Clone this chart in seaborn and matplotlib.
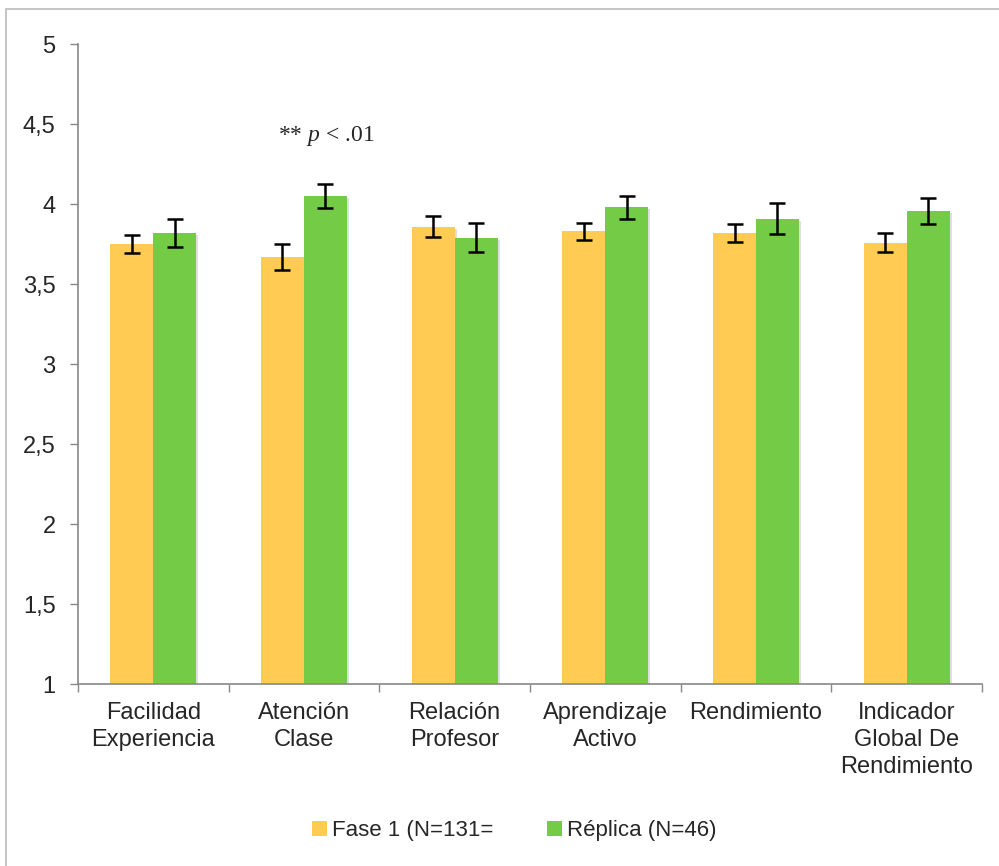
import numpy as np
import pandas as pd
import matplotlib
matplotlib.use("Agg")
import matplotlib.pyplot as plt
import matplotlib.patheffects as pe
from matplotlib.patches import Rectangle, Patch
import seaborn as sns

# Datos
categorias = ["Facilidad\nExperiencia", "Atención\nClase", "Relación\nProfesor",
              "Aprendizaje\nActivo", "Rendimiento", "Indicador\nGlobal De\nRendimiento"]
series = ["Fase 1 (N=131=", "Réplica (N=46)"]
fase1_media = [3.75, 3.67, 3.86, 3.83, 3.82, 3.76]
fase1_error = [0.058, 0.080, 0.067, 0.052, 0.056, 0.059]
replica_media = [3.82, 4.05, 3.79, 3.98, 3.91, 3.96]
replica_error = [0.086, 0.077, 0.090, 0.073, 0.099, 0.081]
yticks = [1, 1.5, 2, 2.5, 3, 3.5, 4, 4.5, 5]
ytick_labels = ["1", "1,5", "2", "2,5", "3", "3,5", "4", "4,5", "5"]
colores = ["#FFCB53", "#74CB46"]

df = pd.DataFrame({
    "categoria": categorias * 2,
    "grupo": [series[0]] * 6 + [series[1]] * 6,
    "media": fase1_media + replica_media,
    "error": fase1_error + replica_error,
})

sns.set_style("white")
plt.rcParams["font.family"] = ["Liberation Sans", "DejaVu Sans"]
plt.rcParams["mathtext.fontset"] = "custom"
plt.rcParams["mathtext.it"] = "Liberation Serif:italic"
plt.rcParams["mathtext.rm"] = "Liberation Serif"

fig = plt.figure(figsize=(9.99, 8.66), dpi=100)
ax = fig.add_axes([0.078, 0.21, 0.905, 0.739])

sns.barplot(data=df, x="categoria", y="media", hue="grupo", palette=colores,
            errorbar=None, width=0.57, saturation=1, ax=ax, legend=False,
            linewidth=0, zorder=2)

# sombra ligera de las barras y barras de error
for bar in ax.patches:
    bar.set_path_effects([pe.SimplePatchShadow(offset=(1.5, -1.5), alpha=0.25, shadow_rgbFace="gray"),
                          pe.Normal()])
for bar, (_, fila) in zip(ax.patches, df.iterrows()):
    xc = bar.get_x() + bar.get_width() / 2
    ax.errorbar(xc, fila["media"], yerr=fila["error"], fmt="none", ecolor="black",
                elinewidth=1.8, capsize=5.8, capthick=1.8, zorder=3)

ax.set_ylim(1, 5)
ax.set_xlim(-0.5, 5.5)
ax.set_yticks(yticks)
ax.set_yticklabels(ytick_labels)
ax.set_xlabel("")
ax.set_ylabel("")
ax.set_xticks(range(6))
ax.set_xticklabels(categorias, fontsize=17, linespacing=1.3)
ax.tick_params(axis="x", length=0, pad=13)
ax.tick_params(axis="y", labelsize=17, length=6, width=1, color="#888888", left=True, pad=10)
ax.set_xticks(np.arange(-0.5, 6, 1), minor=True)
ax.tick_params(axis="x", which="minor", length=6, width=1, color="#888888", bottom=True)

for lado in ["top", "right"]:
    ax.spines[lado].set_visible(False)
for lado in ["left", "bottom"]:
    ax.spines[lado].set_color("#888888")
    ax.spines[lado].set_linewidth(1.2)

fig.text(0.278, 0.843, "** $p$ < .01", fontsize=17, family="Liberation Serif",
         ha="left", va="center")

handles = [Patch(facecolor=c, edgecolor="none") for c in colores]
fig.legend(handles, series, loc="center", bbox_to_anchor=(0.515, 0.041), ncol=2,
           frameon=False, fontsize=16, handlelength=0.65, handleheight=0.65,
           handletextpad=0.25, columnspacing=2.4)

fig.patches.append(Rectangle((0.006, -0.01), 1.0, 1.0, transform=fig.transFigure,
                             fill=False, edgecolor="#BBBBBB", linewidth=1.2))
ax.patch.set_alpha(0)

fig.savefig("out.png", dpi=100)
